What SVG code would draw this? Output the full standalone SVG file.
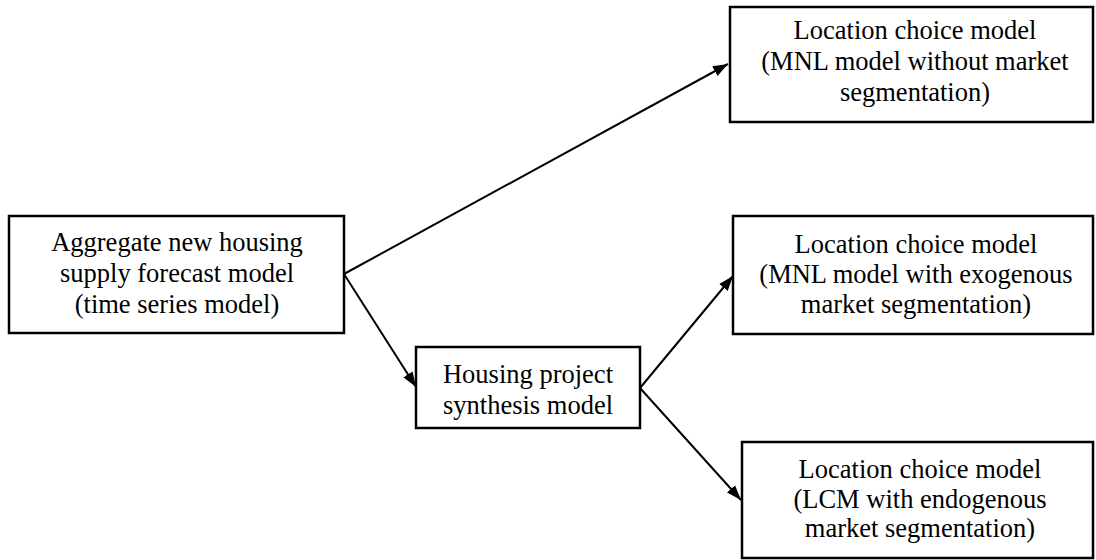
<svg xmlns="http://www.w3.org/2000/svg" width="1096" height="560" viewBox="0 0 1096 560">
<style>
.box{fill:#fff;stroke:#000;stroke-width:2.5}
.lbl{font-family:"Liberation Serif","Times New Roman",serif;font-size:26.5px;fill:#000;text-anchor:middle}
.con{stroke:#000;stroke-width:2;fill:none;marker-end:url(#ah)}
</style>
<defs>
<marker id="ah" markerUnits="userSpaceOnUse" markerWidth="16" markerHeight="12" refX="15" refY="6" orient="auto">
<path d="M0,0.5 L15,6 L0,11.5 z" fill="#000"/>
</marker>
</defs>
<rect width="1096" height="560" fill="#fff"/>
<g id="connectors">
<line class="con" x1="344" y1="274" x2="728" y2="64"/>
<line class="con" x1="344" y1="274" x2="416" y2="387"/>
<line class="con" x1="640" y1="388" x2="733" y2="276"/>
<line class="con" x1="640" y1="388" x2="741" y2="500"/>
</g>
<g id="aggregate">
<rect class="box" x="9" y="216" width="335" height="117"/>
<text class="lbl" x="177" y="251">Aggregate new housing</text>
<text class="lbl" x="177" y="282">supply forecast model</text>
<text class="lbl" x="177" y="313">(time series model)</text>
</g>
<g id="lcm-without">
<rect class="box" x="730" y="7" width="363" height="115"/>
<text class="lbl" x="915" y="39">Location choice model</text>
<text class="lbl" x="915" y="70">(MNL model without market</text>
<text class="lbl" x="915" y="101">segmentation)</text>
</g>
<g id="lcm-exogenous">
<rect class="box" x="733" y="216" width="360" height="118"/>
<text class="lbl" x="916" y="253">Location choice model</text>
<text class="lbl" x="916" y="283">(MNL model with exogenous</text>
<text class="lbl" x="916" y="313">market segmentation)</text>
</g>
<g id="housing-project">
<rect class="box" x="416" y="347" width="224" height="81"/>
<text class="lbl" x="528" y="383">Housing project</text>
<text class="lbl" x="528" y="414">synthesis model</text>
</g>
<g id="lcm-endogenous">
<rect class="box" x="742" y="442" width="351" height="116"/>
<text class="lbl" x="920" y="478">Location choice model</text>
<text class="lbl" x="920" y="508">(LCM with endogenous</text>
<text class="lbl" x="920" y="537">market segmentation)</text>
</g>
</svg>
